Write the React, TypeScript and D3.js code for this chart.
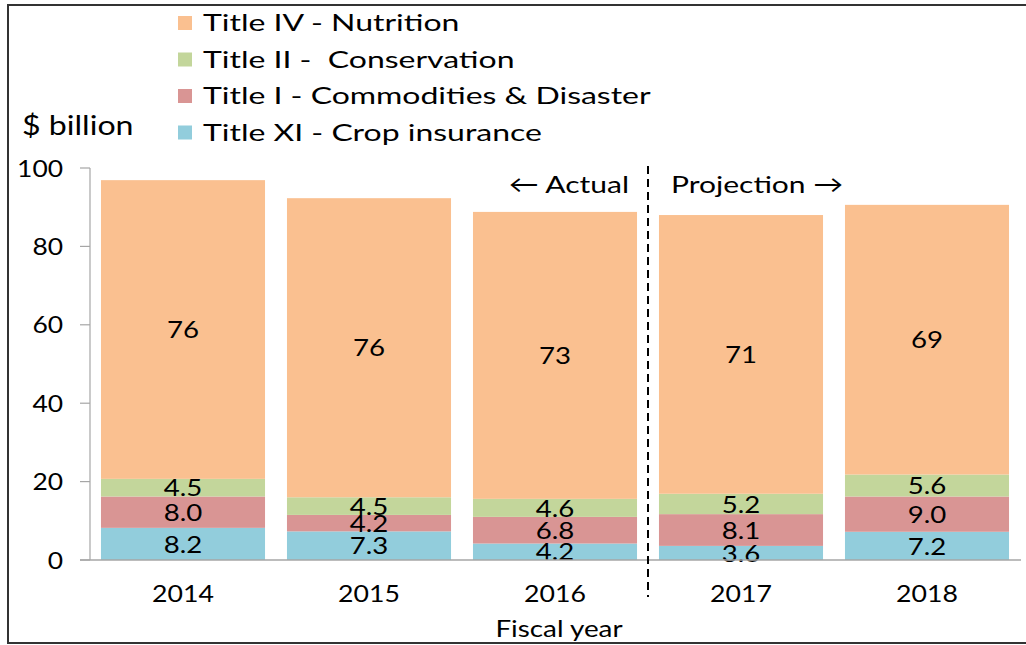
import React from "react";
import { scaleBand, scaleLinear, stack } from "d3";

const years = ["2014", "2015", "2016", "2017", "2018"];
const cropInsurance = [8.2, 7.3, 4.2, 3.6, 7.2];
const commodities = [8.0, 4.2, 6.8, 8.1, 9.0];
const conservation = [4.5, 4.5, 4.6, 5.2, 5.6];
const nutrition = [76.2, 76.3, 73.2, 71.1, 68.8];
const yTicks = [0, 20, 40, 60, 80, 100];

const seriesNames = [
    "Title XI - Crop insurance",
    "Title I - Commodities & Disaster",
    "Title II -  Conservation",
    "Title IV - Nutrition",
];
const seriesKeys = ["crop", "comm", "cons", "nutr"];
const colors = ["#92CDDC", "#D99594", "#C3D69B", "#FAC090"];

const FONT = "Lato, 'Open Sans', sans-serif";

// text stretched horizontally around its anchor point (the source font is wide)
const T = (props: { x: number; y: number; sx: number; size: number; anchor?: string; children: any }) => (
    <text
        transform={`translate(${props.x},${props.y}) scale(${props.sx},1)`}
        dy="0.36em"
        textAnchor={props.anchor || "start"}
        fontSize={props.size}
        fill="#000"
        style={{ whiteSpace: "pre" }}
    >
        {props.children}
    </text>
);

export default function App(): JSX.Element {
    const width = 1026;
    const height = 645;
    const left = 90;
    const right = 1020;
    const top = 168;
    const bottom = 560;

    const x = scaleBand().domain(years).range([left, right]).paddingInner(0.118).paddingOuter(0.059);
    const y = scaleLinear().domain([0, 100]).range([bottom, top]);

    const rows = years.map((yr, i) => ({
        year: yr,
        crop: cropInsurance[i],
        comm: commodities[i],
        cons: conservation[i],
        nutr: nutrition[i],
    }));
    const layers = stack<any>().keys(seriesKeys)(rows);

    const dashX = ((x("2016") || 0) + x.bandwidth() + (x("2017") || 0)) / 2;

    return (
        <svg width={width} height={height} style={{ position: "absolute", left: 0, top: 0 }} fontFamily={FONT}>
            <rect x={0} y={0} width={width} height={height} fill="#fff" />
            <path d={`M1026,5 H8 V643 H1026`} fill="none" stroke="#333" strokeWidth={2} />

            {/* legend, top to bottom */}
            {seriesNames
                .map((n, i) => ({ n, c: colors[i] }))
                .reverse()
                .map((d, i) => (
                    <g key={d.n}>
                        <rect x={178} y={23 + i * 36.5 - 7} width={14} height={14} fill={d.c} />
                        <T x={203} y={23 + i * 36.5} sx={1.39} size={23}>
                            {d.n}
                        </T>
                    </g>
                ))}

            <T x={22} y={125} sx={1.19} size={27}>
                $ billion
            </T>

            {/* bars */}
            {layers.map((layer, li) => (
                <g key={layer.key} fill={colors[li]}>
                    {layer.map((d: any) => (
                        <rect
                            key={d.data.year}
                            x={x(d.data.year)}
                            y={y(d[1])}
                            width={x.bandwidth()}
                            height={y(d[0]) - y(d[1])}
                        />
                    ))}
                </g>
            ))}

            {/* segment labels */}
            {layers.map((layer, li) =>
                layer.map((d: any) => (
                    <T
                        key={layer.key + d.data.year}
                        x={(x(d.data.year) || 0) + x.bandwidth() / 2}
                        y={(y(d[0]) + y(d[1])) / 2}
                        sx={1.15}
                        size={24}
                        anchor="middle"
                    >
                        {li === 3 ? Math.round(d.data[layer.key]) : d.data[layer.key].toFixed(1)}
                    </T>
                ))
            )}

            {/* y axis */}
            <line x1={left} x2={left} y1={top} y2={bottom} stroke="#A6A6A6" strokeWidth={1.2} />
            <line x1={80} x2={right + 1} y1={bottom} y2={bottom} stroke="#A6A6A6" strokeWidth={1.5} />
            {yTicks.map((t) => (
                <g key={t}>
                    <line x1={80} x2={left} y1={y(t)} y2={y(t)} stroke="#A6A6A6" strokeWidth={1.2} />
                    <T x={63} y={y(t)} sx={1.1} size={24} anchor="end">
                        {t}
                    </T>
                </g>
            ))}

            {/* x axis labels */}
            {years.map((yr) => (
                <T key={yr} x={(x(yr) || 0) + x.bandwidth() / 2} y={593} sx={1.11} size={24} anchor="middle">
                    {yr}
                </T>
            ))}
            <T x={559} y={628} sx={1.16} size={24} anchor="middle">
                Fiscal year
            </T>

            {/* actual / projection divider */}
            <line x1={dashX} x2={dashX} y1={166} y2={597} stroke="#000" strokeWidth={2} strokeDasharray="8,5" />
            <T x={dashX - 19} y={184} sx={1.25} size={24} anchor="end">
                ← Actual
            </T>
            <T x={dashX + 23} y={184} sx={1.25} size={24}>
                Projection →
            </T>
        </svg>
    );
}
